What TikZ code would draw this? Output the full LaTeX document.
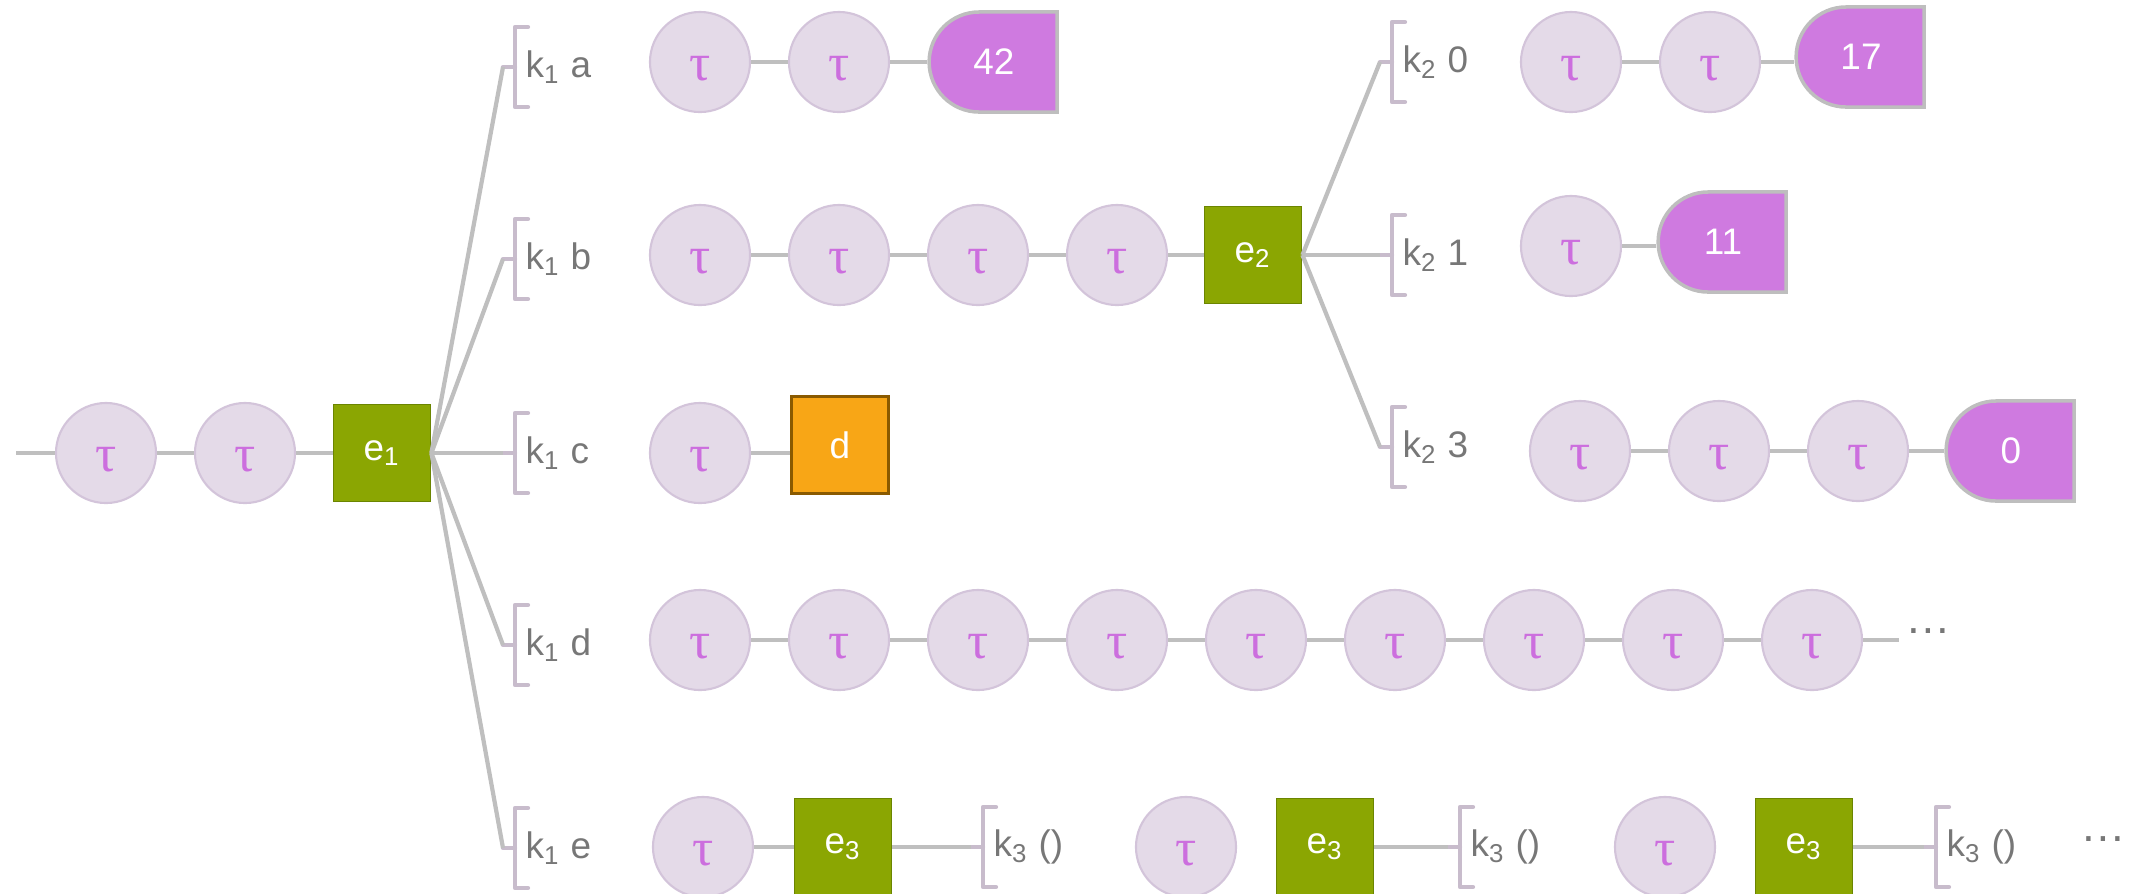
\documentclass[tikz,border=0pt]{standalone}
\usepackage{fontspec}
\setmainfont{Liberation Sans}
\newfontfamily\taufont{Liberation Serif}
\usetikzlibrary{shapes.misc}
\definecolor{conncol}{HTML}{BFBFBF}
\definecolor{circfill}{HTML}{E4DAE8}
\definecolor{circdraw}{HTML}{D3C4DA}
\definecolor{taucol}{HTML}{CC6EDE}
\definecolor{termfill}{HTML}{CF7AE0}
\definecolor{termdraw}{HTML}{BEBEBE}
\definecolor{efill}{HTML}{8BA602}
\definecolor{edraw}{HTML}{6B8500}
\definecolor{dfill}{HTML}{F8A616}
\definecolor{ddraw}{HTML}{8A5A00}
\definecolor{brkcol}{HTML}{C8BCCC}
\definecolor{labcol}{HTML}{777777}
\tikzset{
  conn/.style={draw=conncol, line width=1.4pt},
  fan/.style={draw=conncol, line width=1.2pt},
  tau/.style={circle, minimum size=1cm, inner sep=0pt, fill=circfill, draw=circdraw,
    line width=0.6pt, text=taucol, font=\taufont\fontsize{15}{15}\selectfont,
    text height=0.36cm, text depth=0cm},
  ebox/.style={rectangle, minimum size=0.97cm, inner sep=0pt, fill=efill, draw=edraw,
    line width=0.5pt, text=white, font=\fontsize{10.5}{12}\selectfont},
  dbox/.style={ebox, fill=dfill, draw=ddraw, line width=1pt},
  term/.style={rounded rectangle, rounded rectangle right arc=none, minimum width=1.28cm,
    minimum height=1cm, inner sep=0pt, fill=termfill, draw=termdraw, line width=1pt,
    text=white, font=\fontsize{10.5}{12}\selectfont},
  brk/.style={draw=brkcol, line width=1.2pt, line cap=round, line join=round},
  klab/.style={anchor=west, inner sep=0pt, text=labcol, font=\fontsize{10.5}{12}\selectfont},
  dotlab/.style={anchor=base, inner sep=0pt, text=labcol, font=\fontsize{13}{14}\selectfont},
}
% #1 name of nub coordinate, #2 bracket x, #3 y, #4 text
\newcommand\klabel[4]{%
  \coordinate (#1) at (#2-12,#3);
  \draw[brk] (#2+13,#3-40) -- (#2,#3-40) -- (#2,#3+40) -- (#2+13,#3+40);
  \draw[brk] (#1) -- (#2,#3);
  \node[klab] (#1t) at (#2+10,#3) {#4};
}
\begin{document}
\begin{tikzpicture}[x=0.01cm,y=-0.01cm]
\useasboundingbox (0,0) rectangle (2135,893);

% main row
\coordinate (start) at (16,453);
\node[tau] (m1) at (106,453) {τ};
\node[tau] (m2) at (245,453) {τ};
\node[ebox] (e1) at (382,453) {e\textsubscript{1}};
\draw[conn] (start) -- (m1);
\draw[conn] (m1) -- (m2);
\draw[conn] (m2) -- (e1);

% k1 labels
\klabel{ka}{515}{67}{k\textsubscript{1} a}
\klabel{kb}{515}{259}{k\textsubscript{1} b}
\klabel{kc}{515}{453}{k\textsubscript{1} c}
\klabel{kd}{515}{645}{k\textsubscript{1} d}
\klabel{ke}{515}{848}{k\textsubscript{1} e}
\foreach \k in {ka,kb,kc,kd,ke} \draw[fan] (e1.east) -- (\k);

% row a
\node[tau] (a1) at (700,62) {τ};
\node[tau] (a2) at (839,62) {τ};
\node[term] (a3) at (994,62) {42};
\draw[conn] (a1) -- (a2);
\draw[conn] (a2) -- (a3);

% row b
\node[tau] (b1) at (700,255) {τ};
\node[tau] (b2) at (839,255) {τ};
\node[tau] (b3) at (978,255) {τ};
\node[tau] (b4) at (1117,255) {τ};
\node[ebox] (e2) at (1253,255) {e\textsubscript{2}};
\draw[conn] (b1) -- (b2);
\draw[conn] (b2) -- (b3);
\draw[conn] (b3) -- (b4);
\draw[conn] (b4) -- (e2);

% k2 labels
\klabel{kz}{1392}{62}{k\textsubscript{2} 0}
\klabel{ko}{1392}{255}{k\textsubscript{2} 1}
\klabel{kt}{1392}{447}{k\textsubscript{2} 3}
\foreach \k in {kz,ko,kt} \draw[fan] (e2.east) -- (\k);

% k2 0 row
\node[tau] (p1) at (1571,62) {τ};
\node[tau] (p2) at (1710,62) {τ};
\node[term] (p3) at (1861,57) {17};
\draw[conn] (p1) -- (p2);
\draw[conn] (p2.east) -- (p2.east -| p3.west);

% k2 1 row
\node[tau] (q1) at (1571,246) {τ};
\node[term] (q2) at (1723,242) {11};
\draw[conn] (q1.east) -- (q1.east -| q2.west);

% k2 3 row
\node[tau] (r1) at (1580,451) {τ};
\node[tau] (r2) at (1719,451) {τ};
\node[tau] (r3) at (1858,451) {τ};
\node[term] (r4) at (2011,451) {0};
\draw[conn] (r1) -- (r2);
\draw[conn] (r2) -- (r3);
\draw[conn] (r3) -- (r4);

% row c
\node[tau] (c1) at (700,453) {τ};
\node[dbox] (dd) at (840,445) {d};
\draw[conn] (c1.east) -- (c1.east -| dd.west);

% row d
\foreach \i in {1,...,9} \node[tau] (d\i) at ({700+139*(\i-1)},640) {τ};
\foreach \i [evaluate=\i as \j using int(\i+1)] in {1,...,8} \draw[conn] (d\i) -- (d\j);
\coordinate (dend) at (1899,640);
\draw[conn] (d9) -- (dend);
\node[dotlab] (ddots) at (1928,633) {…};

% row e
\node[tau] (x1) at (703,847) {τ};
\node[ebox] (y1) at (843,847) {e\textsubscript{3}};
\draw[conn] (x1) -- (y1);
\klabel{z1}{983}{847}{k\textsubscript{3} ()}
\draw[conn] (y1) -- (z1);

\node[tau] (x2) at (1186,847) {τ};
\node[ebox] (y2) at (1325,847) {e\textsubscript{3}};
\klabel{z2}{1460}{847}{k\textsubscript{3} ()}
\draw[conn] (y2) -- (z2);

\node[tau] (x3) at (1665,847) {τ};
\node[ebox] (y3) at (1804,847) {e\textsubscript{3}};
\klabel{z3}{1936}{847}{k\textsubscript{3} ()}
\draw[conn] (y3) -- (z3);

\node[dotlab] (edots) at (2103,841) {…};
\end{tikzpicture}
\end{document}
